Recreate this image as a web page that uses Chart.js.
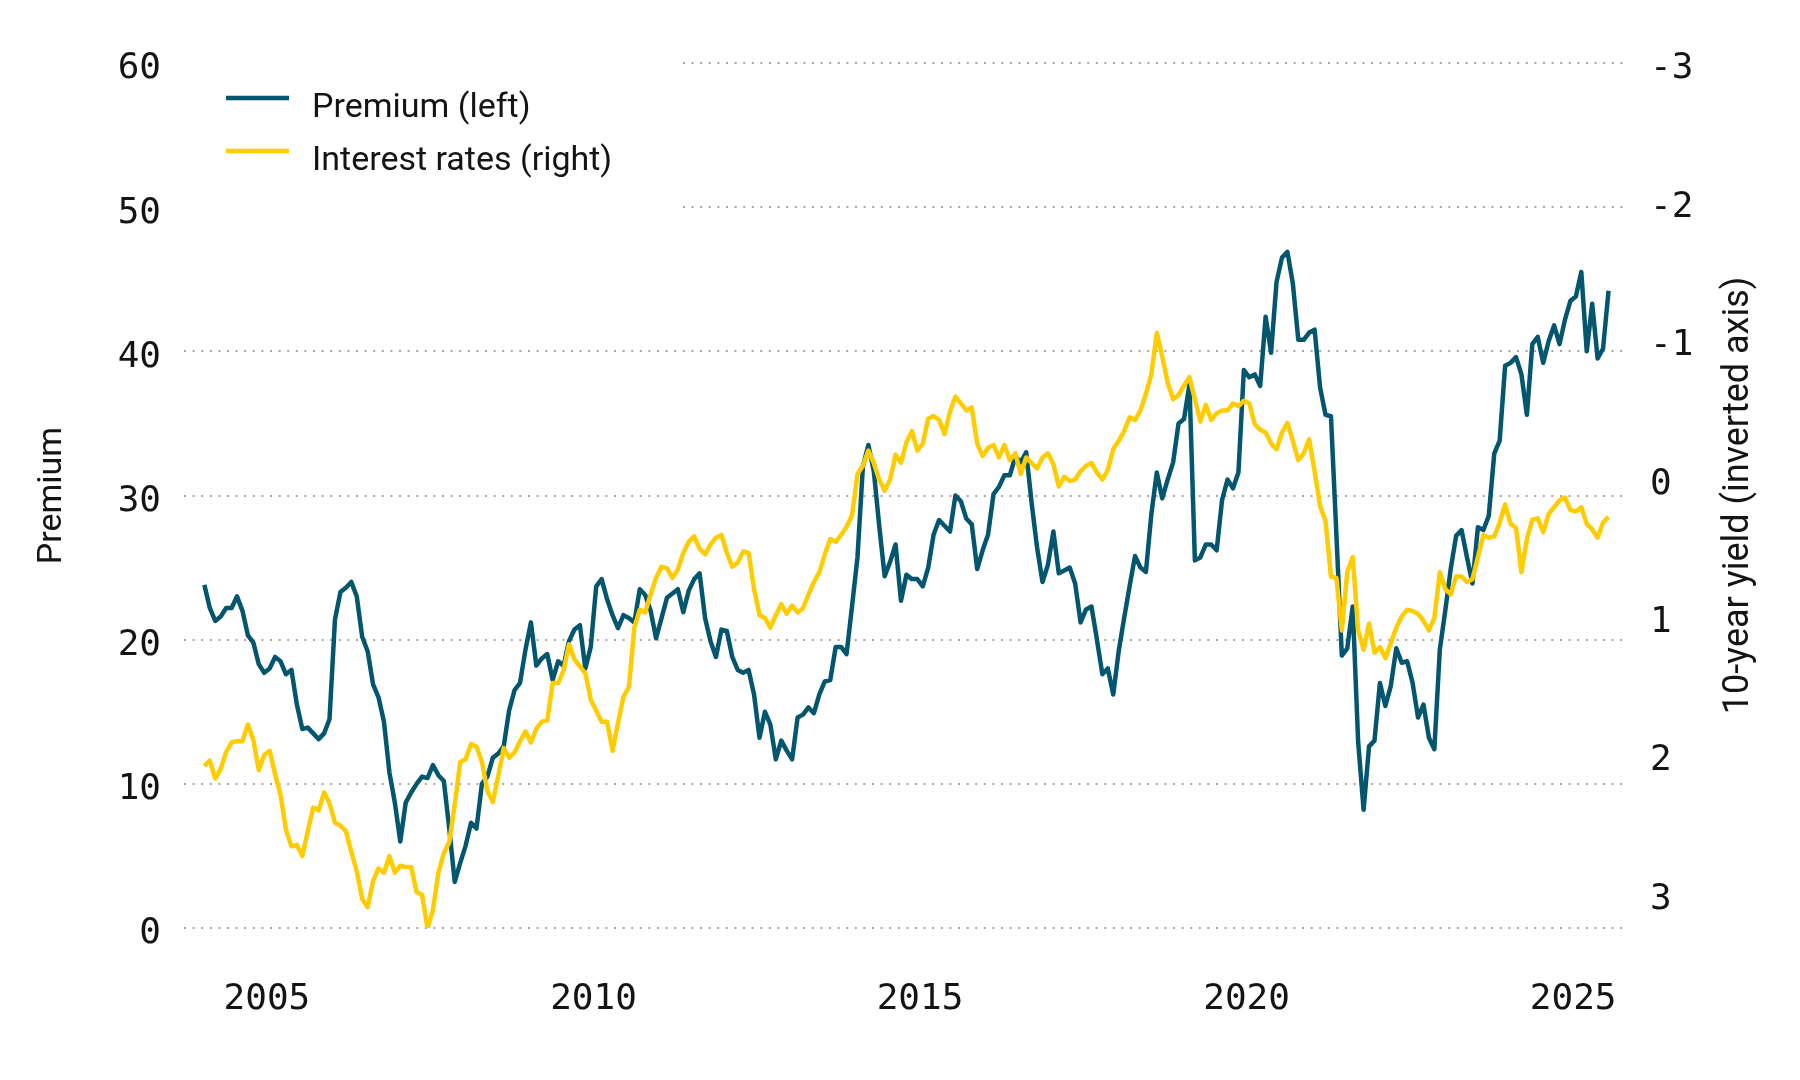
<!DOCTYPE html>
<html>
<head>
<meta charset="utf-8">
<script src="https://cdn.jsdelivr.net/npm/chart.js@4"></script>
<style>
	html, body { margin: 0; padding: 0; background: #fff; }
	#wrap { width: 1800px; height: 1080px; }
</style>
</head>
<body>
<div id="wrap"><canvas id="premiumChart" width="1800" height="1080"></canvas></div>
<script>
// monthly data, first point = January 2004
var startYear = 2004;
var yearTicks = [2005, 2010, 2015, 2020, 2025];
var premiumTicks = [0, 10, 20, 30, 40, 50, 60];
var yieldTicks = [-3, -2, -1, 0, 1, 2, 3];
var seriesNames = ['Premium (left)', 'Interest rates (right)'];
var axisTitles = ['Premium', '10-year yield (inverted axis)'];

var premium = [
	23.8, 22.2, 21.3, 21.6, 22.2, 22.2, 23.0, 22.0, 20.3, 19.8, 18.3, 17.7,
	18.0, 18.8, 18.5, 17.6, 17.9, 15.5, 13.8, 13.9, 13.5, 13.1, 13.5, 14.5,
	21.4, 23.3, 23.6, 24.0, 23.0, 20.2, 19.2, 16.9, 16.0, 14.3, 10.8, 8.7,
	6.0, 8.7, 9.4, 10.0, 10.5, 10.4, 11.3, 10.6, 10.2, 6.9, 3.2, 4.5,
	5.7, 7.3, 6.9, 10.0, 10.5, 11.8, 12.1, 12.6, 15.1, 16.5, 17.0, 19.3,
	21.2, 18.2, 18.7, 19.0, 17.2, 18.5, 18.2, 19.9, 20.7, 21.0, 18.0, 19.5,
	23.7, 24.2, 22.8, 21.7, 20.8, 21.7, 21.5, 21.2, 23.5, 23.1, 22.0, 20.1,
	21.5, 22.9, 23.2, 23.5, 21.9, 23.4, 24.2, 24.6, 21.5, 19.9, 18.8, 20.7,
	20.6, 18.8, 17.9, 17.7, 17.9, 16.2, 13.2, 15.0, 14.1, 11.7, 13.0, 12.3,
	11.7, 14.6, 14.8, 15.3, 14.9, 16.2, 17.1, 17.2, 19.5, 19.5, 19.0, 22.3,
	25.7, 32.0, 33.5, 31.7, 27.9, 24.4, 25.4, 26.6, 22.7, 24.5, 24.2, 24.2,
	23.7, 25.0, 27.3, 28.3, 27.9, 27.5, 30.0, 29.6, 28.4, 28.0, 24.9, 26.2,
	27.3, 30.1, 30.6, 31.4, 31.4, 32.7, 32.3, 33.0, 29.5, 26.4, 24.0, 25.2,
	27.5, 24.6, 24.8, 25.0, 23.9, 21.2, 22.1, 22.3, 20.0, 17.6, 18.0, 16.2,
	19.2, 21.5, 23.7, 25.8, 25.0, 24.7, 28.7, 31.6, 29.8, 31.1, 32.3, 35.0,
	35.3, 37.7, 25.5, 25.7, 26.6, 26.6, 26.2, 29.7, 31.1, 30.5, 31.6, 38.7,
	38.2, 38.4, 37.6, 42.4, 39.9, 44.8, 46.5, 46.9, 44.7, 40.8, 40.8, 41.3,
	41.5, 37.5, 35.6, 35.5, 27.3, 18.9, 19.4, 22.3, 12.9, 8.2, 12.6, 13.0,
	17.0, 15.4, 16.8, 19.4, 18.4, 18.5, 17.0, 14.6, 15.5, 13.2, 12.4, 19.3,
	22.0, 24.9, 27.2, 27.6, 25.7, 23.9, 27.8, 27.6, 28.6, 32.9, 33.8, 39.0,
	39.2, 39.6, 38.4, 35.6, 40.5, 41.0, 39.2, 40.7, 41.8, 40.5, 42.2, 43.5,
	43.8, 45.5, 40.0, 43.3, 39.5, 40.2, 44.2
];

var yields = [
	2.08, 2.04, 2.17, 2.10, 1.98, 1.91, 1.90, 1.90, 1.78, 1.89, 2.11, 2.00,
	1.97, 2.14, 2.29, 2.54, 2.66, 2.65, 2.73, 2.55, 2.38, 2.40, 2.27, 2.35,
	2.49, 2.51, 2.55, 2.70, 2.84, 3.04, 3.10, 2.91, 2.82, 2.85, 2.73, 2.85,
	2.80, 2.81, 2.81, 2.99, 3.01, 3.25, 3.12, 2.85, 2.71, 2.63, 2.36, 2.05,
	2.03, 1.92, 1.94, 2.05, 2.26, 2.34, 2.15, 1.95, 2.02, 1.98, 1.90, 1.83,
	1.91, 1.81, 1.76, 1.75, 1.48, 1.48, 1.39, 1.20, 1.31, 1.36, 1.41, 1.60,
	1.68, 1.76, 1.76, 1.97, 1.77, 1.58, 1.51, 1.08, 0.95, 0.97, 0.84, 0.72,
	0.64, 0.65, 0.72, 0.66, 0.54, 0.46, 0.42, 0.51, 0.55, 0.48, 0.43, 0.41,
	0.54, 0.64, 0.61, 0.53, 0.54, 0.80, 0.99, 1.01, 1.08, 0.99, 0.91, 0.98,
	0.92, 0.97, 0.94, 0.84, 0.75, 0.68, 0.55, 0.44, 0.46, 0.41, 0.35, 0.27,
	-0.03, -0.09, -0.20, -0.11, 0.01, 0.09, 0.01, -0.17, -0.11, -0.26, -0.34, -0.20,
	-0.25, -0.43, -0.45, -0.42, -0.32, -0.48, -0.59, -0.54, -0.49, -0.51, -0.25, -0.16,
	-0.22, -0.24, -0.15, -0.24, -0.13, -0.18, -0.03, -0.15, -0.11, -0.07, -0.15, -0.18,
	-0.10, 0.06, -0.01, 0.02, 0.01, -0.05, -0.09, -0.11, -0.04, 0.01, -0.06, -0.21,
	-0.27, -0.34, -0.44, -0.42, -0.49, -0.61, -0.75, -1.05, -0.88, -0.69, -0.57, -0.60,
	-0.67, -0.73, -0.57, -0.41, -0.53, -0.42, -0.47, -0.49, -0.49, -0.54, -0.52, -0.56,
	-0.54, -0.39, -0.35, -0.33, -0.25, -0.21, -0.33, -0.40, -0.27, -0.13, -0.18, -0.28,
	-0.05, 0.20, 0.31, 0.71, 0.72, 1.10, 0.68, 0.57, 1.10, 1.24, 1.05, 1.26,
	1.22, 1.30, 1.19, 1.08, 1.00, 0.95, 0.96, 0.98, 1.03, 1.10, 1.01, 0.68,
	0.80, 0.84, 0.71, 0.71, 0.75, 0.73, 0.57, 0.41, 0.43, 0.42, 0.32, 0.19,
	0.33, 0.36, 0.68, 0.44, 0.30, 0.29, 0.39, 0.26, 0.21, 0.16, 0.14, 0.23,
	0.24, 0.21, 0.33, 0.37, 0.43, 0.32, 0.28
];

var blue = '#03566e';
var yellow = '#ffcc00';
var textColor = '#141414';
var tickFont = { family: 'DejaVu Sans Mono', size: 36 };

function monthly(values) {
	return values.map(function (v, i) {
		return { x: startYear + (i + 0.5) / 12, y: v };
	});
}

function fixedTicks(list) {
	return function (scale) {
		scale.ticks = list.map(function (v) { return { value: v }; });
	};
}

// dotted horizontal lines, the top two leave room for the legend
var dottedGrid = {
	id: 'dottedGrid',
	beforeDatasetsDraw: function (chart) {
		var ctx = chart.ctx;
		var area = chart.chartArea;
		var y = chart.scales.y;
		ctx.save();
		ctx.strokeStyle = '#a6a6a6';
		ctx.lineWidth = 2;
		ctx.setLineDash([2, 6.6]);
		premiumTicks.forEach(function (v) {
			var py = Math.round(y.getPixelForValue(v));
			var x0 = v >= 50 ? 683 : area.left;
			ctx.beginPath();
			ctx.moveTo(x0, py);
			ctx.lineTo(area.right, py);
			ctx.stroke();
		});
		ctx.restore();
	}
};

// legend and both axis titles
var annotations = {
	id: 'annotations',
	afterDraw: function (chart) {
		var ctx = chart.ctx;
		var area = chart.chartArea;
		var midY = (area.top + area.bottom) / 2;
		ctx.save();
		ctx.fillStyle = textColor;
		ctx.textAlign = 'center';
		ctx.textBaseline = 'middle';

		ctx.save();
		ctx.font = '34px Roboto';
		ctx.translate(52, midY);
		ctx.rotate(-Math.PI / 2);
		ctx.fillText(axisTitles[0], 0, 0);
		ctx.restore();

		ctx.save();
		ctx.font = '36px Roboto';
		ctx.translate(1739, midY);
		ctx.rotate(-Math.PI / 2);
		ctx.fillText(axisTitles[1], 0, 0);
		ctx.restore();

		var colors = [blue, yellow];
		var rows = [98, 151];
		ctx.font = '34px Roboto';
		ctx.textAlign = 'left';
		ctx.textBaseline = 'alphabetic';
		for (var i = 0; i < 2; i++) {
			ctx.strokeStyle = colors[i];
			ctx.lineWidth = 4.5;
			ctx.beginPath();
			ctx.moveTo(226, rows[i]);
			ctx.lineTo(289, rows[i]);
			ctx.stroke();
			ctx.fillText(seriesNames[i], 312, rows[i] + 19);
		}
		ctx.restore();
	}
};

var ctx = document.getElementById('premiumChart').getContext('2d');
new Chart(ctx, {
	type: 'line',
	data: {
		datasets: [{
			label: seriesNames[0],
			data: monthly(premium),
			yAxisID: 'y',
			borderColor: blue,
			borderWidth: 4.5,
			borderJoinStyle: 'round',
			pointRadius: 0,
			tension: 0,
			fill: false,
			order: 2
		}, {
			label: seriesNames[1],
			data: monthly(yields),
			yAxisID: 'y1',
			borderColor: yellow,
			borderWidth: 4.5,
			borderJoinStyle: 'round',
			pointRadius: 0,
			tension: 0,
			fill: false,
			order: 1
		}]
	},
	options: {
		responsive: false,
		animation: false,
		devicePixelRatio: 1,
		layout: { padding: { top: 63, left: 0, right: 0, bottom: 0 } },
		plugins: {
			legend: { display: false },
			tooltip: { enabled: false }
		},
		scales: {
			x: {
				type: 'linear',
				min: 2003.73,
				max: 2025.84,
				grid: { display: false, drawTicks: false },
				border: { display: false },
				afterBuildTicks: fixedTicks(yearTicks),
				afterFit: function (scale) { scale.height = 152; },
				ticks: {
					padding: 50,
					color: textColor,
					font: tickFont,
					maxRotation: 0,
					callback: function (v) { return String(v); }
				}
			},
			y: {
				position: 'left',
				min: 0,
				max: 60,
				grid: { display: false, drawTicks: false },
				border: { display: false },
				afterBuildTicks: fixedTicks(premiumTicks),
				afterFit: function (scale) { scale.width = 184; },
				ticks: {
					padding: 23,
					labelOffset: 6,
					color: textColor,
					font: tickFont,
					callback: function (v) { return String(v); }
				}
			},
			y1: {
				position: 'right',
				min: -3,
				max: 3.25,
				reverse: true,
				grid: { display: false, drawTicks: false },
				border: { display: false },
				afterBuildTicks: fixedTicks(yieldTicks),
				afterFit: function (scale) { scale.width = 172; },
				ticks: {
					padding: 22,
					labelOffset: 6,
					color: textColor,
					font: tickFont,
					callback: function (v) { return String(v); }
				}
			}
		}
	},
	plugins: [dottedGrid, annotations]
});
</script>
</body>
</html>
